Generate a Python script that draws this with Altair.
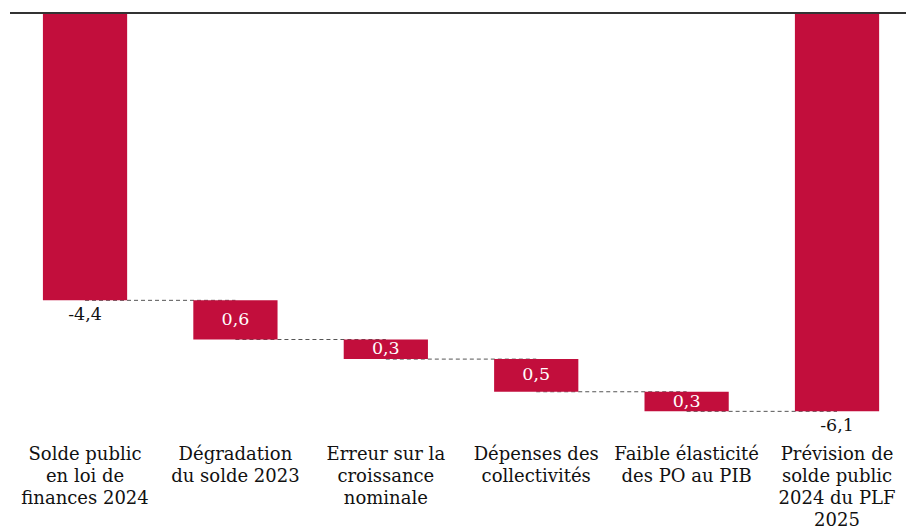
import altair as alt
import pandas as pd

categories = [
    "Solde public\nen loi de\nfinances 2024",
    "Dégradation\ndu solde 2023",
    "Erreur sur la\ncroissance\nnominale",
    "Dépenses des\ncollectivités",
    "Faible élasticité\ndes PO au PIB",
    "Prévision de\nsolde public\n2024 du PLF\n2025",
]
values = [-4.4, -0.6, -0.3, -0.5, -0.3, -6.1]
kinds = ["total", "delta", "delta", "delta", "delta", "total"]
value_labels = ["-4,4", "0,6", "0,3", "0,5", "0,3", "-6,1"]

FONT = "DejaVu Serif"
RED = "#C20E3C"

rows = []
prev = 0.0
for c, v, k, lab in zip(categories, values, kinds, value_labels):
    if k == "total":
        start, end = 0.0, v
    else:
        start, end = prev, prev + v
    rows.append({"cat": c, "start": start, "end": end, "mid": (start + end) / 2,
                 "kind": k, "label": lab})
    prev = end
df = pd.DataFrame(rows)
df_delta = df[df["kind"] == "delta"].reset_index(drop=True)
df_total = df[df["kind"] == "total"].reset_index(drop=True)

conn_rows = []
for i in range(len(rows) - 1):
    conn_rows.append({"cat": rows[i]["cat"], "lvl": rows[i]["end"], "seg": i})
    conn_rows.append({"cat": rows[i + 1]["cat"], "lvl": rows[i]["end"], "seg": i})
conn = pd.DataFrame(conn_rows)

xscale = alt.Scale(domain=categories, paddingInner=0.44, paddingOuter=0.232, align=0.615)
yscale = alt.Scale(domain=[-7.917, 0.199], nice=False, zero=False)

bars = alt.Chart(df).mark_bar(color=RED).encode(
    x=alt.X("cat:N", scale=xscale, axis=None),
    y=alt.Y("start:Q", scale=yscale, axis=None),
    y2="end:Q",
)

connectors = alt.Chart(conn).mark_line(color="#555", strokeWidth=1, strokeDash=[4, 3]).encode(
    x=alt.X("cat:N", scale=xscale, axis=None),
    y=alt.Y("lvl:Q", scale=yscale, axis=None),
    detail="seg:N",
)

inner = alt.Chart(df_delta).mark_text(
    font=FONT, fontSize=17.5, color="white", baseline="middle"
).encode(
    x=alt.X("cat:N", scale=xscale, axis=None),
    y=alt.Y("mid:Q", scale=yscale, axis=None),
    text="label:N",
)

outer = alt.Chart(df_total).mark_text(
    font=FONT, fontSize=17.5, color="#111", baseline="middle", dy=15
).encode(
    x=alt.X("cat:N", scale=xscale, axis=None),
    y=alt.Y("end:Q", scale=yscale, axis=None),
    text="label:N",
)

cat_labels = alt.Chart(df).mark_text(
    font=FONT, fontSize=18, color="#111", baseline="top", lineBreak="\n", lineHeight=22
).encode(
    x=alt.X("cat:N", scale=xscale, axis=None),
    y=alt.datum(-6.63),
    text="cat:N",
)

zero_line = alt.Chart(df).mark_rule(color="#333", strokeWidth=2).encode(
    y=alt.datum(0),
    x=alt.value(10),
    x2=alt.value(906),
)

chart = alt.layer(connectors, bars, inner, outer, cat_labels, zero_line).properties(
    width=906, height=530,
    autosize=alt.AutoSizeParams(type="none"),
    padding=0,
).configure_view(strokeWidth=0)

chart.save("out.html", embed_options={"renderer": "svg", "actions": False})
